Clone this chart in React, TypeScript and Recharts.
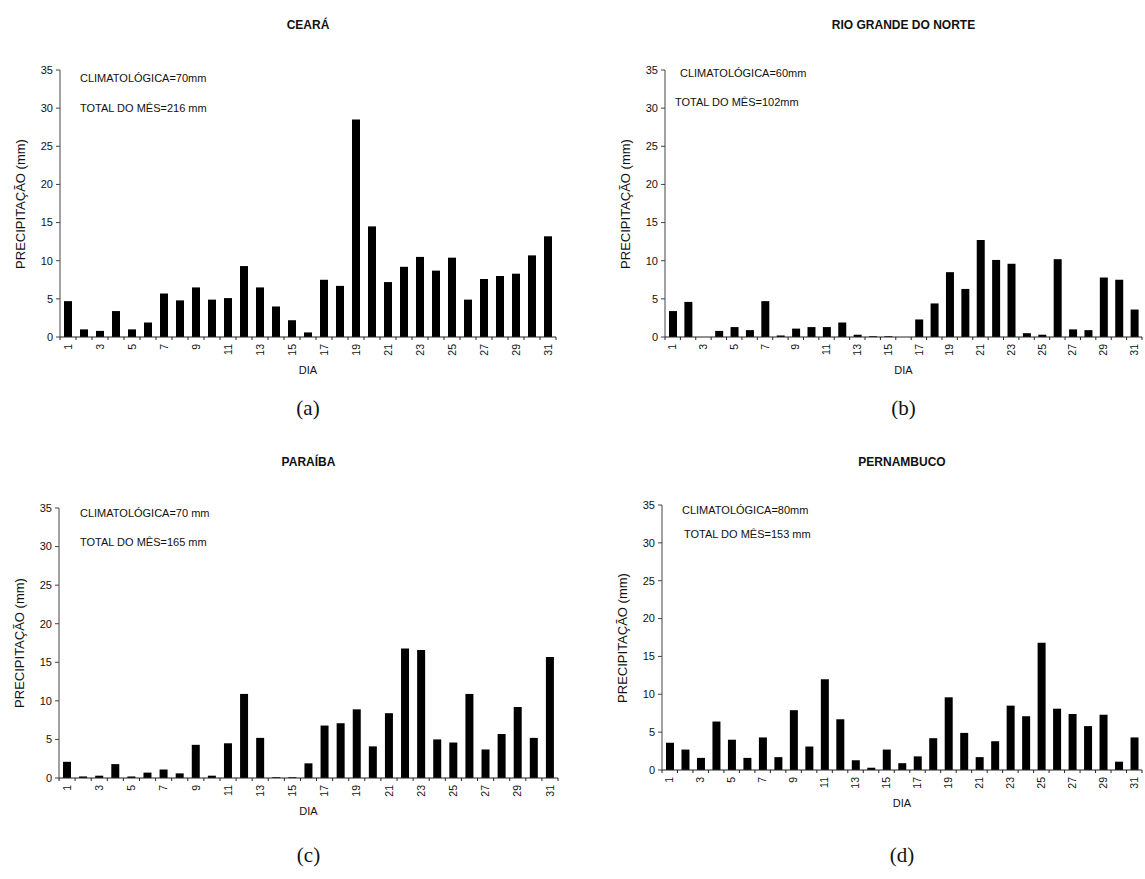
import React from 'react';
import { Bar, BarChart, XAxis, YAxis } from 'recharts';

const DIAS = [
  1, 2, 3, 4, 5, 6, 7, 8, 9, 10, 11, 12, 13, 14, 15, 16,
  17, 18, 19, 20, 21, 22, 23, 24, 25, 26, 27, 28, 29, 30, 31,
];

const Y_TICKS = [0, 5, 10, 15, 20, 25, 30, 35];

// precipitação diária (mm)
const CEARA = [
  4.7, 1.0, 0.8, 3.4, 1.0, 1.9, 5.7, 4.8, 6.5, 4.9, 5.1, 9.3, 6.5, 4.0, 2.2, 0.6,
  7.5, 6.7, 28.5, 14.5, 7.2, 9.2, 10.5, 8.7, 10.4, 4.9, 7.6, 8.0, 8.3, 10.7, 13.2,
];
const RIO_GRANDE_DO_NORTE = [
  3.4, 4.6, 0, 0.8, 1.3, 0.9, 4.7, 0.2, 1.1, 1.3, 1.3, 1.9, 0.3, 0.1, 0.1, 0,
  2.3, 4.4, 8.5, 6.3, 12.7, 10.1, 9.6, 0.5, 0.3, 10.2, 1.0, 0.9, 7.8, 7.5, 3.6,
];
const PARAIBA = [
  2.1, 0.2, 0.3, 1.8, 0.2, 0.7, 1.1, 0.6, 4.3, 0.3, 4.5, 10.9, 5.2, 0.1, 0.1, 1.9,
  6.8, 7.1, 8.9, 4.1, 8.4, 16.8, 16.6, 5.0, 4.6, 10.9, 3.7, 5.7, 9.2, 5.2, 15.7,
];
const PERNAMBUCO = [
  3.6, 2.7, 1.6, 6.4, 4.0, 1.6, 4.3, 1.7, 7.9, 3.1, 12.0, 6.7, 1.3, 0.3, 2.7, 0.9,
  1.8, 4.2, 9.6, 4.9, 1.7, 3.8, 8.5, 7.1, 16.8, 8.1, 7.4, 5.8, 7.3, 1.1, 4.3,
];

const FONT = '"Liberation Sans", Arial, sans-serif';

type PanelProps = {
  title: string;
  clim: string;
  total: string;
  letter: string;
  values: number[];
  plotLeft: number;
  plotRight: number;
  plotTop: number;
  plotBottom: number;
  climPos: [number, number];
  totalPos: [number, number];
  titleY: number;
  letterY: number;
};

function DiaTick(props: any) {
  const { x, y, payload, band } = props;
  const v = Number(payload.value);
  const bx = x - band / 2;
  return (
    <g>
      <line x1={bx} x2={bx} y1={y - 5} y2={y - 2} stroke="#222" />
      {v === 31 && (
        <line x1={x + band / 2} x2={x + band / 2} y1={y - 5} y2={y - 2} stroke="#222" />
      )}
      {v % 2 === 1 && (
        <g transform={`translate(${x}, ${y + 2})`}>
          <text
            x={0}
            y={0}
            transform="rotate(-90)"
            textAnchor="end"
            dy="0.35em"
            fontSize={10.5}
            fontFamily={FONT}
            fill="#111"
          >
            {v}
          </text>
        </g>
      )}
    </g>
  );
}

function Panel(p: PanelProps) {
  const data = DIAS.map((d, i) => ({ dia: d, mm: p.values[i] }));
  const yAxisW = 60;
  const chartLeft = p.plotLeft - yAxisW;
  const chartTop = p.plotTop - 10;
  const width = p.plotRight - chartLeft + 4;
  const height = p.plotBottom - chartTop + 50;
  const band = (p.plotRight - p.plotLeft) / DIAS.length;
  const cx = (p.plotLeft + p.plotRight) / 2;

  const abs = (x: number, y: number): React.CSSProperties => ({
    position: 'absolute',
    left: x,
    top: y,
    whiteSpace: 'nowrap',
    fontFamily: FONT,
  });

  return (
    <>
      <div
        style={{
          ...abs(cx, p.titleY),
          transform: 'translate(-50%, -50%)',
          fontWeight: 'bold',
          fontSize: 12,
        }}
      >
        {p.title}
      </div>
      <div style={{ position: 'absolute', left: chartLeft, top: chartTop }}>
        <BarChart
          width={width}
          height={height}
          data={data}
          margin={{ top: 10, right: 4, bottom: 10, left: 0 }}
        >
          <XAxis
            dataKey="dia"
            interval={0}
            tickLine={false}
            tickSize={3}
            tickMargin={2}
            height={40}
            stroke="#222"
            tick={<DiaTick band={band} />}
          />
          <YAxis
            width={yAxisW}
            domain={[0, 35]}
            ticks={Y_TICKS}
            interval={0}
            tickSize={4}
            tickMargin={3}
            stroke="#444"
            tick={{ fontSize: 11, fill: '#111', fontFamily: FONT }}
          />
          <Bar dataKey="mm" fill="#000" barSize={Math.round(band * 0.5)} isAnimationActive={false} />
        </BarChart>
      </div>
      <div
        style={{
          ...abs(chartLeft + 20, (p.plotTop + p.plotBottom) / 2),
          transform: 'translate(-50%, -50%) rotate(-90deg)',
          fontSize: 13,
        }}
      >
        PRECIPITAÇÃO (mm)
      </div>
      <div
        style={{
          ...abs(cx, p.plotBottom + 33),
          transform: 'translate(-50%, -50%)',
          fontSize: 11,
        }}
      >
        DIA
      </div>
      <div style={{ ...abs(p.climPos[0], p.climPos[1]), transform: 'translateY(-50%)', fontSize: 11 }}>
        {p.clim}
      </div>
      <div style={{ ...abs(p.totalPos[0], p.totalPos[1]), transform: 'translateY(-50%)', fontSize: 11 }}>
        {p.total}
      </div>
      <div
        style={{
          ...abs(cx, p.letterY),
          transform: 'translate(-50%, -50%)',
          fontSize: 21,
          fontFamily: '"Liberation Serif", "Times New Roman", serif',
        }}
      >
        {p.letter}
      </div>
    </>
  );
}

export default function App() {
  return (
    <div
      style={{
        position: 'absolute',
        left: 0,
        top: 0,
        width: 1145,
        height: 879,
        background: '#fff',
        color: '#111',
        overflow: 'hidden',
      }}
    >
      <Panel
        title="CEARÁ"
        clim="CLIMATOLÓGICA=70mm"
        total="TOTAL DO MÊS=216 mm"
        letter="(a)"
        values={CEARA}
        plotLeft={60}
        plotRight={556}
        plotTop={70}
        plotBottom={337}
        climPos={[80, 78]}
        totalPos={[80, 108]}
        titleY={25}
        letterY={408}
      />
      <Panel
        title="RIO GRANDE DO NORTE"
        clim="CLIMATOLÓGICA=60mm"
        total="TOTAL DO MÊS=102mm"
        letter="(b)"
        values={RIO_GRANDE_DO_NORTE}
        plotLeft={665}
        plotRight={1142}
        plotTop={70}
        plotBottom={337}
        climPos={[680, 73]}
        totalPos={[675, 102]}
        titleY={25}
        letterY={408}
      />
      <Panel
        title="PARAÍBA"
        clim="CLIMATOLÓGICA=70 mm"
        total="TOTAL DO MÊS=165 mm"
        letter="(c)"
        values={PARAIBA}
        plotLeft={59}
        plotRight={558}
        plotTop={508}
        plotBottom={778}
        climPos={[80, 513]}
        totalPos={[80, 542]}
        titleY={462}
        letterY={855}
      />
      <Panel
        title="PERNAMBUCO"
        clim="CLIMATOLÓGICA=80mm"
        total="TOTAL DO MÊS=153 mm"
        letter="(d)"
        values={PERNAMBUCO}
        plotLeft={662}
        plotRight={1142}
        plotTop={505}
        plotBottom={770}
        climPos={[682, 510]}
        totalPos={[684, 534]}
        titleY={462}
        letterY={855}
      />
    </div>
  );
}
